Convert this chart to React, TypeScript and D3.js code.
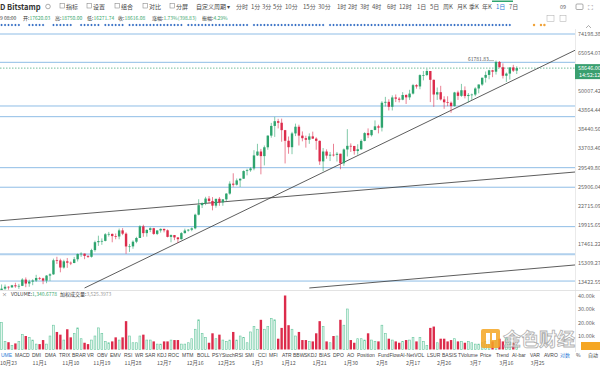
import React from "react";
import * as d3 from "d3";

// BTC/USD daily candles, Bitstamp, 2020-10-21 .. 2021-03-19
const firstDay = "2020-10-21";

const opens = [
  11920, 12820, 12990, 12935, 13120, 13030, 13070, 13650, 13280, 13460, 13560,
  13800, 13760, 13550, 14030, 14150, 15590, 15580, 14830, 15480, 15330, 15300, 15700, 16280, 16320, 16070,
  15970, 16730, 17660, 17800, 17820, 18650, 18700, 18420, 18370, 19160, 18730, 17150, 17160, 17720, 18180,
  19700, 18800, 19220, 19450, 18700, 19150, 19360, 19170, 18320, 18550, 18250, 18030, 18800, 19140, 19250,
  19430, 21350, 22800, 23130, 23860, 23470, 22720, 23820, 23240, 23730, 24690, 26440, 26250, 27040, 27360, 28840,
  29000, 29370, 32130, 33000, 31970, 33980, 36820, 39370, 40670, 40240, 38240, 35540, 34000, 37390, 39150,
  36820, 36180, 35790, 36630, 36070, 35520, 30830, 33000, 32080, 32290, 32250, 32500, 30430, 33470, 34320, 34290,
  33110, 33520, 35510, 37470, 36930, 38290, 39260, 38900, 46200, 46480, 44920, 47910, 47500, 47170,
  48720, 47940, 49200, 52150, 51680, 55890, 55920, 57490, 54100, 48890, 49680, 47260, 46340, 46200,
  45140, 49590, 48440, 50350, 48370, 48760, 48880, 50970, 52380, 54880, 55960, 57770, 57220, 61190,
  59000, 55640, 56470, 58930, 57640,
];
const highs = [
  13200, 13190, 13030, 13160, 13350, 13250, 13780, 13850, 13640, 13680, 14100,
  13900, 13820, 14070, 14250, 15770, 15970, 15760, 15650, 15840, 15460, 15960, 16340, 16480, 16330, 16130,
  16880, 17850, 18470, 18130, 18800, 18960, 18750, 18750, 19400, 19460, 18900, 17450, 17880, 18330, 19850,
  19920, 19300, 19570, 19500, 19170, 19420, 19390, 19280, 18630, 18560, 18290, 18930, 19390, 19330, 19550,
  21500, 23750, 23250, 24150, 24280, 24100, 23820, 24100, 23780, 24770, 26870, 28400, 27400, 27400, 28990, 29300,
  29600, 33300, 34800, 33600, 34400, 36900, 40200, 41900, 41350, 41400, 38300, 36600, 37800, 40000, 39700,
  37900, 36800, 37400, 37850, 36400, 35600, 33800, 33500, 32900, 34800, 32900, 32500, 33700, 38500, 34900, 34300,
  34700, 35900, 37700, 38700, 38300, 40900, 39700, 46700, 48100, 47300, 48600, 48900, 48000, 49700,
  49000, 50500, 52600, 52500, 56200, 57500, 58350, 57500, 54200, 51300, 51900, 48300, 48300, 46600,
  49800, 50200, 52600, 51700, 49400, 49200, 51400, 52400, 54900, 57300, 58000, 58000, 61788, 61600,
  60600, 56900, 58900, 60000, 59400,
];
const lows = [
  11900, 12700, 12730, 12900, 12900, 12800, 13050, 12950, 12990, 13130, 13430,
  13620, 13220, 13310, 13530, 14100, 15200, 14350, 14720, 14800, 15080, 15280, 15460, 15960, 15710, 15840,
  15880, 16540, 17220, 17340, 17760, 18360, 17650, 18020, 18020, 18540, 16300, 16520, 16880, 17540, 18180,
  18330, 18350, 18930, 18580, 18550, 18870, 18900, 18260, 17650, 17910, 17570, 18000, 18750, 19000, 19050,
  19300, 21250, 22350, 22800, 23100, 22000, 22400, 22700, 22700, 23450, 24500, 25900, 26100, 25850, 27320, 28000,
  28700, 29000, 32000, 28200, 30000, 33400, 36300, 36500, 38700, 35300, 30400, 32500, 32400, 36700, 34400,
  35400, 33900, 34800, 36000, 33400, 30100, 28800, 31400, 30900, 31900, 30800, 29200, 29900, 31900, 32900, 32300,
  32300, 33400, 35400, 36200, 36600, 38200, 37400, 37900, 45000, 43800, 43800, 46400, 46300, 47000,
  45800, 47100, 48900, 50900, 50700, 53900, 55500, 46400, 44900, 47100, 46900, 44300, 45100, 43100,
  45000, 47100, 48100, 47600, 46300, 47100, 48300, 49300, 51900, 53100, 54300, 55100, 56100, 58900,
  54600, 53300, 54200, 57100, 56300,
];
const closes = [
  12820, 12990, 12935, 13120, 13030, 13070, 13650, 13280, 13460, 13560, 13800,
  13760, 13550, 14030, 14150, 15590, 15580, 14830, 15480, 15330, 15300, 15700, 16280, 16320, 16070, 15970,
  16730, 17660, 17800, 17820, 18650, 18700, 18420, 18370, 19160, 18730, 17150, 17160, 17720, 18180, 19700,
  18800, 19220, 19450, 18700, 19150, 19360, 19170, 18320, 18550, 18250, 18030, 18800, 19140, 19250, 19430,
  21350, 22800, 23130, 23860, 23470, 22720, 23820, 23240, 23730, 24690, 26440, 26250, 27040, 27360, 28840, 29000,
  29370, 32130, 33000, 31970, 33980, 36820, 39370, 40670, 40240, 38240, 35540, 34000, 37390, 39150, 36820,
  36180, 35790, 36630, 36070, 35520, 30830, 33000, 32080, 32290, 32250, 32500, 30430, 33470, 34320, 34290, 33110,
  33520, 35510, 37470, 36930, 38290, 39260, 38900, 46200, 46480, 44920, 47910, 47500, 47170, 48720,
  47940, 49200, 52150, 51680, 55890, 55920, 57490, 54100, 48890, 49680, 47260, 46340, 46200, 45140,
  49590, 48440, 50350, 48370, 48760, 48880, 50970, 52380, 54880, 55960, 57770, 57220, 61190, 59000,
  55640, 56470, 58930, 57640, 58646,
];
// daily volume, BTC
const volumes = [
  20000, 6000, 5400, 3000, 4500, 6000, 11000, 10000, 9000, 7000, 4000,
  4000, 7000, 4000, 10000, 18000, 13000, 11000, 7000, 15000, 9000, 12000, 16000, 8000, 5000, 4000,
  7000, 10000, 16000, 12000, 6000, 5000, 6000, 9000, 7000, 9000, 21000, 10000, 5000, 5000, 10000,
  11000, 7000, 7000, 6000, 4000, 4000, 6000, 6000, 7000, 7000, 7000, 4000, 4000, 5000, 8000, 15000, 22000,
  12000, 9000, 5000, 12000, 8000, 11000, 7000, 6000, 7000, 13000, 7000, 10000, 9000, 5000,
  13000, 17000, 15000, 22000, 15000, 17000, 23000, 22000, 8000, 16000, 40000, 18000, 15000, 10000,
  13000, 7000, 7000, 6000, 6000, 12000, 21000, 17000, 6000, 5000, 10000, 10000, 22000, 18000, 30000, 7000,
  5000, 8000, 8000, 7000, 12000, 7000, 6000, 6000, 18000, 12000, 8000, 7000, 6000, 5000, 6000, 7000,
  7000, 9000, 6000, 9000, 6000, 3000, 16000, 17000, 5000, 8000, 8000, 6000, 7000, 8000, 6000, 6000,
  5000, 6000, 5000, 4000, 4000, 5000, 6000, 7000, 6000, 7000, 8000, 6000, 8000, 6000, 5000, 3000,
];

const priceTicks = [74198.38, 65054.07, 50007.42, 43864.44, 38440.56, 33703.46, 29549.8, 25906.04, 22715.09, 19915.65, 17461.22, 15309.27, 13422.55];
const volumeTicks = [10000, 20000, 30000, 40000];
const dateTicks = [
  "2020-10-23", "2020-11-01", "2020-11-10", "2020-11-19", "2020-11-28", "2020-12-07", "2020-12-16", "2020-12-25",
  "2021-01-03", "2021-01-12", "2021-01-21", "2021-01-30", "2021-02-08", "2021-02-17", "2021-02-26",
  "2021-03-07", "2021-03-16", "2021-03-25",
];
// horizontal levels drawn on the chart
const levels = [74198.38, 61040, 45170, 41960, 29520, 25800, 19660, 16260, 13510];
// drawn trend lines [date, price] -> [date, price]
const trendLines = [
  [["2020-11-14", 12880], ["2021-04-05", 66440]],
  [["2020-10-20", 20450], ["2021-04-05", 28660]],
  [["2021-01-18", 12880], ["2021-04-05", 15100]],
];
const markerGaps = [6, 7, 13, 14, 21, 22, 29, 36, 53, 72, 94, 148, 149];
const futureEvents = ["2021-03-24", "2021-03-26", "2021-03-27"];
const lastPrice = 58646.0;
const periodHigh = 61781.83;

const toolbar = ["指标", "设置", "组合", "对比", "分屏"];
const toolbarX = [66, 93, 121, 149, 176];
const periods = ["分时", "1分", "3分", "5分", "10分", "15分", "30分", "1时", "2时", "3时", "4时", "6时", "12时", "1日", "5日", "周K", "月K", "季K", "年K", "1日", "7日"];
const periodX = [236, 251, 262, 273, 285, 303, 318, 337, 348, 360, 372, 387, 399, 417, 430, 443, 457, 469, 482, 496, 509];
const quote = [
  ["开:", "17620.03"], ["高:", "18750.00"], ["低:", "16271.74"], ["收:", "18616.08"],
  ["涨幅:", "1.73%(398.83)"], ["振幅:", "4.29%"],
];
const quoteX = [23, 55, 87, 118, 152, 202];
const indicators = ["UME", "MACD", "DMI", "DMA", "TRIX", "BRAR", "VR", "OBV", "EMV", "RSI", "WR", "SAR", "KDJ", "ROC", "MTM", "BOLL", "PSY", "StochRSI", "SMI", "CCI", "MFI", "ATR", "BBW", "SKDJ", "BIAS", "DPO", "AO", "Position", "FundFlow", "AI-NetVOL", "LSUR", "BASIS", "TVolume", "Price", "Trend", "AI-bar", "VAR", "AVRO"];
const indicatorX = [1, 15, 32, 45, 59, 72, 87, 97, 110, 124, 135, 145, 157, 168, 182, 197, 212, 222, 245, 258, 269, 282, 293, 304, 319, 333, 347, 357, 378, 400, 427, 442, 458, 480, 496, 512, 530, 544];

const parseDay = d3.timeParse("%Y-%m-%d");
const FONT = "'Noto Sans CJK SC', 'Noto Sans', sans-serif";
const NARROW = "'Liberation Sans Narrow', 'Liberation Sans', sans-serif";
const UP = "#2ea46e";
const DOWN = "#dc2b4b";
const LEVEL = "#8fbde6";

export default function App() {
  const day0 = parseDay(firstDay) as Date;
  const days = closes.map((_, i) => d3.timeDay.offset(day0, i));
  const x = d3
    .scaleTime()
    .domain([parseDay("2020-10-23") as Date, parseDay("2021-03-25") as Date])
    .range([8.5, 537.5]);
  const y = d3.scaleLog().domain([13422.55, 74198.38]).range([282, 34]);
  const yv = d3.scaleLinear().domain([0, 40000]).range([349.5, 295.5]);
  const bw = 2.4;
  const fmt = d3.timeFormat("%-m月%-d");
  const hiIdx = d3.maxIndex(highs);

  return (
    <svg
      width={600}
      height={367}
      style={{ position: "absolute", left: 0, top: 0, background: "#fff" }}
      fontFamily={FONT}
    >
      <defs>
        <clipPath id="pricePane">
          <rect x={0} y={29} width={575} height={261} />
        </clipPath>
      </defs>

      {/* toolbar */}
      <text x={0} y={10} fontSize={7.5} fontWeight="bold" fill="#333">D Bitstamp</text>
      <circle cx={48} cy={6.5} r={2.3} fill="none" stroke="#777" strokeWidth={0.6} />
      {toolbar.map((t, i) => (
        <g key={t}>
          <rect x={toolbarX[i] - 6} y={3.5} width={4.5} height={4.5} fill="none" stroke="#777" strokeWidth={0.5} />
          <text x={toolbarX[i]} y={9} fontSize={6} fill="#444">{t}</text>
        </g>
      ))}
      <text x={196} y={9} fontSize={6} fill="#444">自定义周期 ▾</text>
      {periods.map((p, i) => (
        <text key={i} x={periodX[i]} y={9} fontSize={6} fill={i === 19 ? "#2f7ad6" : "#555"}>{p}</text>
      ))}
      <rect x={492} y={0.5} width={21} height={1.5} fill="#2fa56f" />
      <text x={560} y={9} fontSize={5.5} fill="#666">09</text>
      <rect x={576} y={4} width={7} height={5.5} fill="none" stroke="#777" strokeWidth={0.6} rx={1} />
      <text x={588} y={9.5} fontSize={7} fill="#777">⛶</text>

      {/* quote row */}
      <text x={0} y={19.5} fontSize={5} fill="#333">9 08:00</text>
      {quote.map((q, i) => (
        <text key={i} x={quoteX[i]} y={19.5} fontSize={5}>
          <tspan fill="#333">{q[0]}</tspan>
          <tspan fill="#3aa76d">{q[1]}</tspan>
        </text>
      ))}
      <rect x={547} y={15.5} width={7} height={6} fill="none" stroke="#aaa" strokeWidth={0.5} />
      <rect x={560} y={15.5} width={6} height={6} fill="none" stroke="#aaa" strokeWidth={0.5} />
      <path d="M586,28 L588.5,25.5 L591,28" fill="none" stroke="#777" strokeWidth={0.6} />

      {/* event markers */}
      {days.map((d, i) =>
        markerGaps.includes(i) ? null : (
          <rect key={i} x={x(d) - 0.9} y={24} width={1.8} height={1.8} fill="#2c68c2" transform={`rotate(45 ${x(d)} ${24.9})`} />
        )
      )}
      {futureEvents.map((s) => (
        <circle key={s} cx={x(parseDay(s) as Date)} cy={25} r={1.2} fill="#f0a33a" />
      ))}

      {/* pane borders */}
      <line x1={575.5} x2={575.5} y1={29} y2={352} stroke="#e4e4e4" strokeWidth={0.8} />
      <line x1={0} x2={600} y1={290.5} y2={290.5} stroke="#dcdcdc" strokeWidth={0.8} />

      <g clipPath="url(#pricePane)">
        {levels.map((l, i) => (
          <line key={i} x1={0} x2={575} y1={y(l)} y2={y(l)} stroke={LEVEL} strokeWidth={i === 7 ? 2 : 1} opacity={i === 7 ? 0.7 : 1} />
        ))}
        <line x1={0} x2={575} y1={y(lastPrice)} y2={y(lastPrice)} stroke="#3a9f6f" strokeWidth={0.7} strokeDasharray="1.5,1.5" />
        {trendLines.map((t, i) => (
          <line
            key={i}
            x1={x(parseDay(t[0][0] as string) as Date)}
            y1={y(t[0][1] as number)}
            x2={x(parseDay(t[1][0] as string) as Date)}
            y2={y(t[1][1] as number)}
            stroke="#333"
            strokeWidth={0.8}
          />
        ))}
        {days.map((d, i) => {
          const up = closes[i] >= opens[i];
          const c = up ? UP : DOWN;
          const top = y(Math.max(opens[i], closes[i]));
          const bot = y(Math.min(opens[i], closes[i]));
          return (
            <g key={i}>
              <line x1={x(d)} x2={x(d)} y1={y(highs[i])} y2={y(lows[i])} stroke={c} strokeWidth={0.6} />
              <rect x={x(d) - bw / 2} y={top} width={bw} height={Math.max(0.7, bot - top)} fill={c} />
            </g>
          );
        })}
        <text x={x(days[hiIdx]) - 28} y={y(highs[hiIdx]) + 0.5} fontSize={5} fill="#555">
          {periodHigh.toFixed(2)}
        </text>
        <line x1={x(days[hiIdx]) - 7} x2={x(days[hiIdx]) - 2} y1={y(highs[hiIdx])} y2={y(highs[hiIdx])} stroke="#777" strokeWidth={0.5} />
      </g>

      {/* price axis */}
      {priceTicks.map((p) => (
        <text key={p} x={578} y={y(p) + 2} fontSize={5.5} fill="#666">{p.toFixed(2)}</text>
      ))}
      <rect x={575} y={y(lastPrice) - 4} width={25} height={15} fill="#3a9f6f" />
      <text x={578} y={y(lastPrice) + 2} fontSize={5.5} fill="#fff">{lastPrice.toFixed(2)}</text>
      <text x={579} y={y(lastPrice) + 9} fontSize={5.5} fill="#fff">14:52:12</text>

      {/* volume pane */}
      <text x={2} y={296} fontSize={5} fill="#555">×</text>
      <text x={11} y={296} fontSize={5} fill="#333">VOLUME:<tspan fill="#3aa76d">1,340.6778</tspan></text>
      <text x={60} y={296} fontSize={5} fill="#333">加权成交量:<tspan fill="#999">3,525.3973</tspan></text>
      {days.map((d, i) => {
        const up = closes[i] >= opens[i];
        const top = yv(volumes[i]);
        return up ? (
          <rect key={i} x={x(d) - bw / 2 + 0.3} y={top} width={bw - 0.6} height={yv(0) - top} fill="#e4f5ed" stroke="#67c79f" strokeWidth={0.6} />
        ) : (
          <rect key={i} x={x(d) - bw / 2} y={top} width={bw} height={yv(0) - top} fill={DOWN} />
        );
      })}
      {volumeTicks.map((v) => (
        <text key={v} x={578} y={yv(v) + 2} fontSize={5.5} fill="#666">{(v / 1000).toFixed(2)}k</text>
      ))}
      <rect x={581} y={342} width={19} height={8} fill="#f5a623" />

      {/* watermark */}
      <g opacity={0.85}>
        <rect x={481} y={329} width={19} height={19} rx={2} fill="#f5a623" />
        <rect x={486} y={333} width={4} height={11} fill="#fff" />
        <rect x={492} y={333} width={4} height={7} fill="#fff" />
      </g>
      <text x={503} y={345.5} fontSize={18} fontWeight="bold" fill="#fff" stroke="#9a9a9a" strokeWidth={0.8} opacity={0.8}>金色财经</text>

      {/* indicator tabs */}
      {indicators.map((n, i) => (
        <text key={n} x={indicatorX[i]} y={357} fontSize={5} fontFamily={NARROW} fill={i === 0 ? "#2f7ad6" : "#444"}>{n}</text>
      ))}
      <text x={560} y={357} fontSize={5} fill="#2f7ad6">对数</text>
      <text x={576} y={357} fontSize={5} fill="#444">%</text>
      <text x={588} y={357} fontSize={5} fill="#444">自动</text>

      {/* date axis */}
      {dateTicks.map((s) => {
        const d = parseDay(s) as Date;
        return (
          <text key={s} x={x(d)} y={364.5} fontSize={5.3} fill="#555" textAnchor="middle">{fmt(d)}</text>
        );
      })}
    </svg>
  );
}
